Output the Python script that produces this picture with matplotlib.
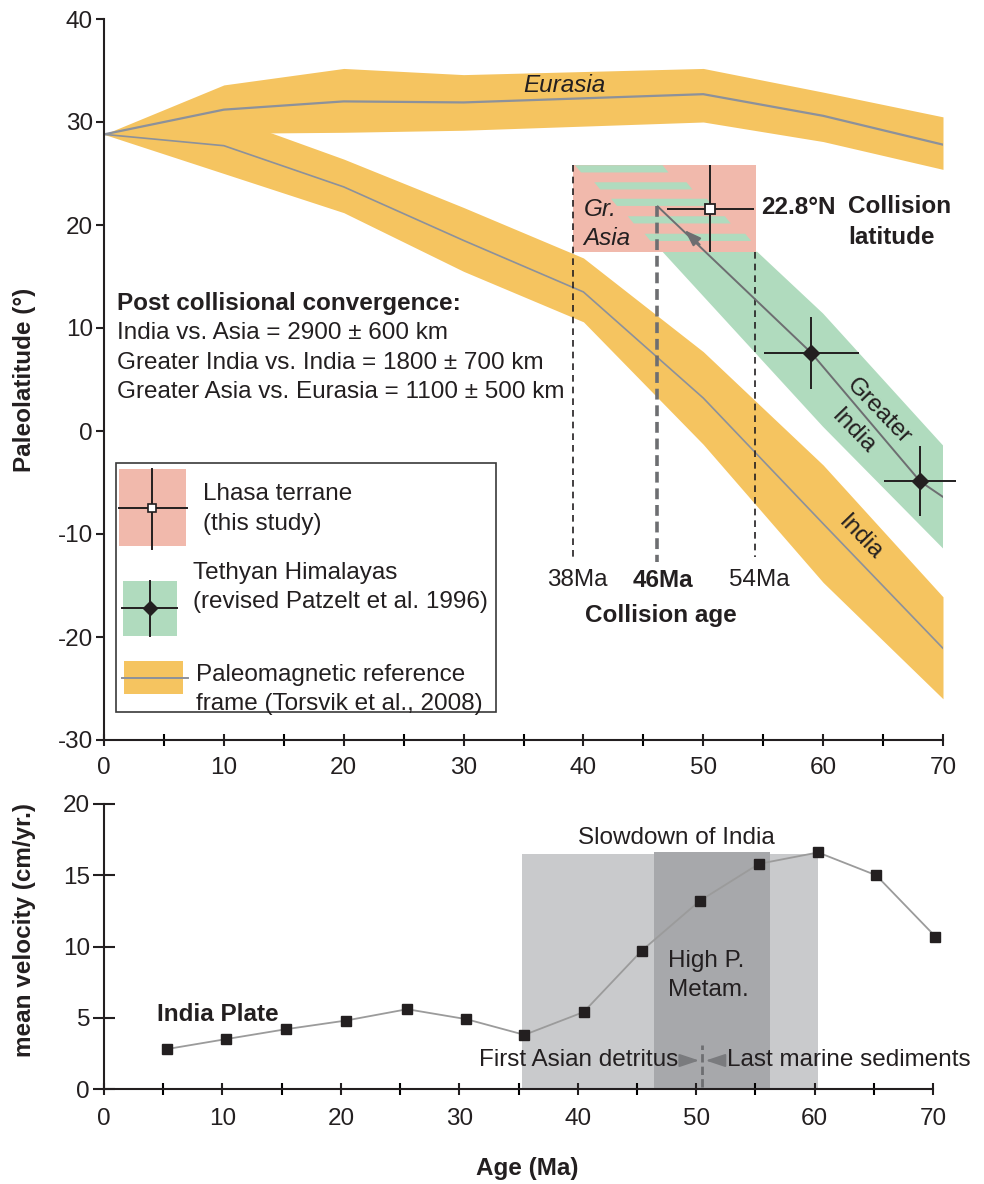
import numpy as np
import matplotlib.pyplot as plt
from matplotlib.patches import Rectangle, Polygon

FS = 17.5
plt.rcParams.update({'font.family': ['Liberation Sans', 'DejaVu Sans']})
plt.rcParams.update({'font.size': FS})
plt.rcParams.update({'axes.unicode_minus': False})

INK = '#231f20'
ORANGE = '#f5c460'
PINK = '#f1b9ac'
GREEN = '#b0dbbe'
MIDLINE = '#8c919b'
DARKLINE = '#6d6e71'

# ---- paleomagnetic reference frame (Torsvik et al., 2008) ----
ref_age = [0, 10, 20, 30, 40, 50, 60, 70]
eurasia_mid = [28.8, 31.2, 32.0, 31.9, 32.3, 32.7, 30.6, 27.8]
eurasia_hi = [28.8, 33.6, 35.2, 34.6, 34.9, 35.2, 32.9, 30.5]
eurasia_lo = [28.8, 28.9, 29.0, 29.2, 29.6, 30.0, 28.1, 25.4]
india_mid = [28.8, 27.7, 23.7, 18.5, 13.5, 3.2, -9.0, -21.1]
india_hi = [28.8, 30.6, 26.4, 21.7, 16.8, 7.7, -3.3, -16.1]
india_lo = [28.8, 25.0, 21.2, 15.5, 10.6, -1.3, -14.7, -26.0]

# ---- Greater India band and path ----
gi_hi_age = [54.5, 60, 70]
gi_hi = [17.4, 11.4, -1.4]
gi_lo_age = [46.6, 60, 70]
gi_lo = [17.4, 0.4, -11.4]
gi_line_age = [46.2, 59.0, 68.1, 70.0]
gi_line_lat = [21.8, 7.6, -4.9, -6.4]

# ---- Greater Asia box and hatch stripes ----
box_age = [39.1, 54.4]
box_lat = [17.35, 25.8]
stripe_left = [39.3, 40.9, 42.3, 43.7, 45.1]
stripe_right = [46.6, 48.6, 50.3, 51.8, 53.5]
stripe_lat = [25.45, 23.8, 22.2, 20.5, 18.8]

# ---- paleomagnetic poles ----
lhasa_age, lhasa_lat = 50.6, 21.6
lhasa_xerr, lhasa_yerr = 3.65, 4.2
teth_age = [59.0, 68.1]
teth_lat = [7.6, -4.9]
teth_xerr = [3.95, 3.0]
teth_yerr = [3.5, 3.4]

# ---- collision age ----
coll_pos = [39.1, 46.1, 54.3]
coll_labels = ['38Ma', '46Ma', '54Ma']

# ---- India plate velocity ----
vel_age = [5.3, 10.3, 15.4, 20.4, 25.6, 30.6, 35.5, 40.5, 45.4, 50.3, 55.3, 60.3, 65.2, 70.2]
vel = [2.8, 3.5, 4.2, 4.8, 5.6, 4.9, 3.8, 5.4, 9.7, 13.2, 15.8, 16.6, 15.0, 10.7]
slow_span = [35.3, 60.3, 16.5]
hpm_span = [46.4, 56.2, 16.6]

fig = plt.figure(figsize=(9.84, 11.84), dpi=100)
ax = fig.add_axes([104/984, 1 - 740/1184, 839/984, 721/1184])
ax2 = fig.add_axes([104/984, 1 - 1089/1184, 829/984, 285/1184])

for a in (ax, ax2):
    a.spines['top'].set_visible(False)
    a.spines['right'].set_visible(False)
    for s in ('left', 'bottom'):
        a.spines[s].set_linewidth(1.5)
        a.spines[s].set_color(INK)
    a.set_xlim(0, 70)
    a.set_xticks(range(0, 71, 10))
    a.set_xticks(range(5, 70, 10), minor=True)
    a.tick_params(colors=INK, labelsize=FS)

# ================= top panel =================
ax.set_ylim(-30, 40)
ax.set_yticks(range(-30, 41, 10))
ax.tick_params(axis='x', which='both', direction='inout', length=8, width=1.5, pad=8)
ax.tick_params(axis='y', direction='out', length=6, width=1.5, pad=2)

ax.fill_between(ref_age, eurasia_lo, eurasia_hi, color=ORANGE, lw=0, zorder=1)
ax.fill_between(ref_age, india_lo, india_hi, color=ORANGE, lw=0, zorder=1)
ax.plot(ref_age, eurasia_mid, color=MIDLINE, lw=1.6, zorder=2)
ax.plot(ref_age, india_mid, color=MIDLINE, lw=1.2, zorder=2)

gi_poly = list(zip(gi_lo_age, gi_lo)) + list(zip(gi_hi_age, gi_hi))[::-1]
ax.add_patch(Polygon(gi_poly, closed=True, color=GREEN, lw=0, zorder=1.5))

ax.add_patch(Rectangle((box_age[0], box_lat[0]), box_age[1] - box_age[0],
                       box_lat[1] - box_lat[0], color=PINK, lw=0, zorder=2))
h, sk = 0.7, 0.5
for l, r, lat in zip(stripe_left, stripe_right, stripe_lat):
    ax.add_patch(Polygon([(l, lat + h/2), (r, lat + h/2), (r + sk, lat - h/2), (l + sk, lat - h/2)],
                         closed=True, color=GREEN, lw=0, zorder=2.2))

# collision age lines
ax.plot([coll_pos[0]] * 2, [25.8, -12.2], color=INK, lw=1.2, ls=(0, (4, 3)), zorder=3)
ax.plot([coll_pos[2]] * 2, [17.4, -12.2], color=INK, lw=1.2, ls=(0, (4, 3)), zorder=3)
ax.plot([coll_pos[1]] * 2, [21.8, -12.7], color=DARKLINE, lw=2.6, ls=(0, (3, 1.6)), zorder=3)
for xp, lab in zip(coll_pos, coll_labels):
    ax.text(xp + (0.35 if lab != '46Ma' else 0.5), -14.5, lab, ha='center', va='center', color=INK,
            fontweight='bold' if lab == '46Ma' else 'normal')
ax.text(46.5, -17.9, 'Collision age', ha='center', va='center', color=INK, fontweight='bold')

# Greater India path
ax.plot(gi_line_age, gi_line_lat, color=DARKLINE, lw=1.4, zorder=4)
ax.annotate('', xy=(48.45, 19.5), xytext=(49.7, 18.1),
            arrowprops=dict(arrowstyle='-|>,head_length=1.0,head_width=0.35', color=DARKLINE,
                            lw=1.4, shrinkA=0, shrinkB=0, mutation_scale=10), zorder=4)

ax.errorbar(lhasa_age, lhasa_lat, xerr=lhasa_xerr, yerr=lhasa_yerr, fmt='s', ms=7,
            mfc='white', mec=INK, mew=1.3, ecolor=INK, elinewidth=1.4, capsize=0, zorder=5)
ax.errorbar(teth_age, teth_lat, xerr=teth_xerr, yerr=teth_yerr, fmt='D', ms=8,
            color=INK, ecolor=INK, elinewidth=1.4, capsize=0, zorder=5, clip_on=False)

# labels
ax.text(38.4, 33.5, 'Eurasia', ha='center', va='center', style='italic', color=INK)
ax.text(40.0, 20.1, 'Gr.\nAsia', ha='left', va='center', style='italic', color=INK,
        linespacing=1.35, zorder=6)
ax.text(54.85, 21.7, '22.8°N', ha='left', va='center', fontweight='bold', color=INK)
ax.text(62.1, 20.3, 'Collision\nlatitude', ha='left', va='center', fontweight='bold',
        color=INK, linespacing=1.4)
ax.text(64.6, 1.9, 'Greater', rotation=-46, rotation_mode='anchor', ha='center',
        va='center', color=INK)
ax.text(62.55, -0.1, 'India', rotation=-46, rotation_mode='anchor', ha='center',
        va='center', color=INK)
ax.text(63.1, -10.4, 'India', rotation=-46, rotation_mode='anchor', ha='center',
        va='center', color=INK)

ax.text(1.08, 12.4, 'Post collisional convergence:', ha='left', va='center',
        fontweight='bold', color=INK)
conv_lines = ['India vs. Asia = 2900 ± 600 km',
              'Greater India vs. India = 1800 ± 700 km',
              'Greater Asia vs. Eurasia = 1100 ± 500 km']
for i, t in enumerate(conv_lines):
    ax.text(1.08, 9.5 - 2.85 * i, t, ha='left', va='center', color=INK)

# legend drawn by hand
ax.add_patch(Rectangle((0.97, -27.25), 32.7 - 0.97, 27.25 - 3.1, fill=False,
                       ec='#3a3a3a', lw=1.2, zorder=6))
ax.add_patch(Rectangle((1.25, -11.14), 5.59, 7.45, color=PINK, lw=0, zorder=6))
ax.plot([1.25, 6.9], [-7.5, -7.5], color=INK, lw=1.4, zorder=7)
ax.plot([4.03, 4.03], [-3.69, -11.5], color=INK, lw=1.4, zorder=7)
ax.plot([4.03], [-7.5], 's', ms=6, mfc='white', mec=INK, mew=1.2, zorder=8)
ax.text(8.23, -7.57, 'Lhasa terrane\n(this study)', ha='left', va='center',
        color=INK, linespacing=1.44, zorder=7)

ax.add_patch(Rectangle((1.56, -19.87), 4.53, 5.31, color=GREEN, lw=0, zorder=6))
ax.plot([1.5, 6.09], [-17.2, -17.2], color=INK, lw=1.4, zorder=7)
ax.plot([3.84, 3.84], [-14.56, -19.87], color=INK, lw=1.4, zorder=7)
ax.plot([3.84], [-17.2], 'D', ms=7, color=INK, zorder=8)
ax.text(7.4, -15.2, 'Tethyan Himalayas\n(revised Patzelt et al. 1996)', ha='left',
        va='center', color=INK, linespacing=1.44, zorder=7)

ax.add_patch(Rectangle((1.67, -25.5), 4.92, 3.17, color=ORANGE, lw=0, zorder=6))
ax.plot([1.5, 7.0], [-24.0, -24.0], color=MIDLINE, lw=1.4, zorder=7)
ax.text(7.65, -25.1, 'Paleomagnetic reference\nframe (Torsvik et al., 2008)', ha='left',
        va='center', color=INK, linespacing=1.44, zorder=7)

# ================= bottom panel =================
ax2.set_ylim(0, 20)
ax2.set_yticks(range(0, 21, 5))
ax2.tick_params(axis='x', which='both', direction='inout', length=8, width=1.5, pad=10)
ax2.tick_params(axis='y', direction='inout', length=16, width=1.5, pad=2)

ax2.axvspan(slow_span[0], slow_span[1], ymax=slow_span[2] / 20, color='#c9cacc', lw=0, zorder=1)
ax2.axvspan(hpm_span[0], hpm_span[1], ymax=hpm_span[2] / 20, color='#a7a8ab', lw=0, zorder=1)
ax2.plot(vel_age, vel, color='#9b9b9b', lw=1.3, marker='s', ms=7, mfc=INK, mec=INK,
         zorder=3, clip_on=False)

ax2.plot([50.5, 50.5], [0.15, 3.1], color=DARKLINE, lw=2, ls=(0, (3, 1.5)), zorder=2)
ax2.annotate('', xy=(50.25, 2.0), xytext=(48.6, 2.0),
             arrowprops=dict(arrowstyle='-|>,head_length=1.2,head_width=0.4', color='#7a7b7e',
                             lw=1.4, shrinkA=0, shrinkB=0, mutation_scale=10), zorder=3)
ax2.annotate('', xy=(50.8, 2.0), xytext=(52.4, 2.0),
             arrowprops=dict(arrowstyle='-|>,head_length=1.2,head_width=0.4', color='#7a7b7e',
                             lw=1.4, shrinkA=0, shrinkB=0, mutation_scale=10), zorder=3)
ax2.text(48.5, 2.0, 'First Asian detritus', ha='right', va='center', color=INK, zorder=4)
ax2.text(52.6, 2.0, 'Last marine sediments', ha='left', va='center', color=INK, zorder=4)
ax2.text(47.6, 7.94, 'High P.\nMetam.', ha='left', va='center', color=INK, linespacing=1.4)
ax2.text(48.3, 17.6, 'Slowdown of India', ha='center', va='center', color=INK)
ax2.text(4.45, 5.2, 'India Plate', ha='left', va='center', fontweight='bold', color=INK)

fig.text(25/984, 1 - 380/1184, 'Paleolatitude (°)', rotation=90, ha='center', va='center',
         fontweight='bold', color=INK, fontsize=FS)
fig.text(25/984, 1 - 930/1184, 'mean velocity (cm/yr.)', rotation=90, ha='center', va='center',
         fontweight='bold', color=INK, fontsize=FS)
fig.text(527/984, 1 - 1168/1184, 'Age (Ma)', ha='center', va='center',
         fontweight='bold', color=INK, fontsize=FS)

fig.savefig('out.png', dpi=100)
